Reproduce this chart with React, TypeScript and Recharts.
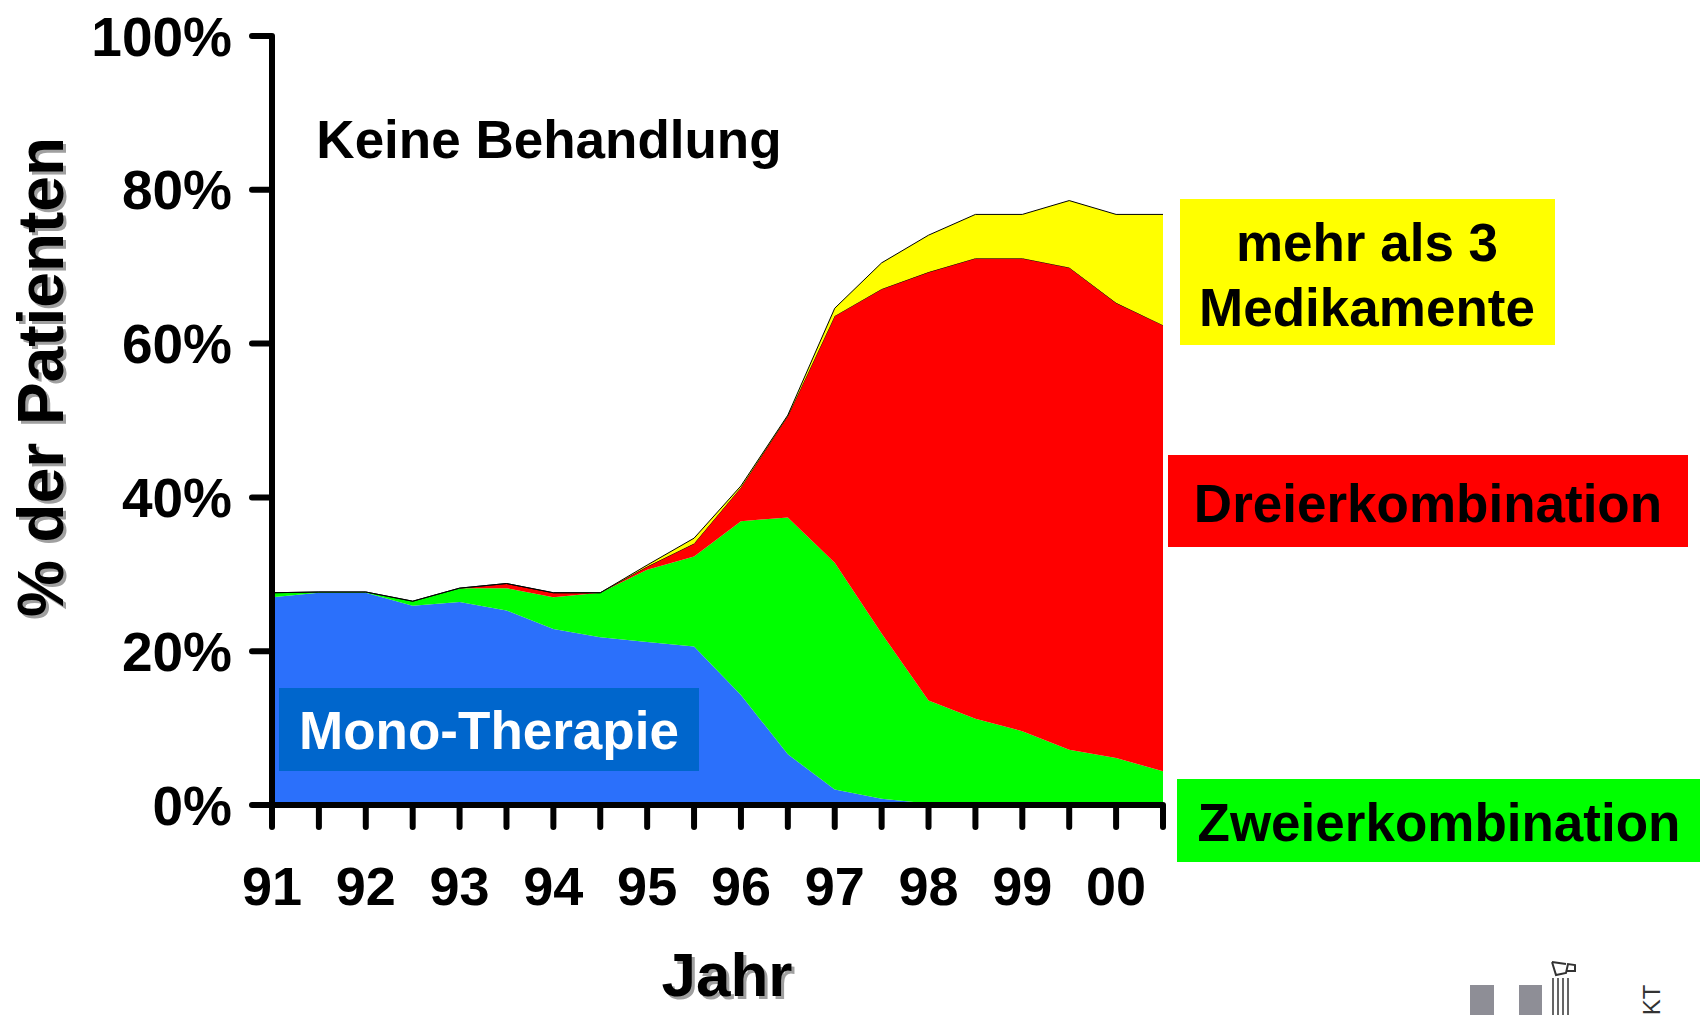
import React from 'react';
import { AreaChart, Area, XAxis, YAxis } from 'recharts';

// half-year steps from 1991 to mid 2000
const periods = ['91', '91.5', '92', '92.5', '93', '93.5', '94', '94.5', '95', '95.5',
  '96', '96.5', '97', '97.5', '98', '98.5', '99', '99.5', '00', '00.5'];

const mono = [27.0, 27.6, 27.6, 25.9, 26.4, 25.3, 22.9, 21.8, 21.2, 20.6, 14.3, 6.6, 2.0, 0.8, 0.2, 0, 0, 0, 0, 0];
const zweier = [0.6, 0.1, 0.1, 0.6, 1.8, 2.9, 4.1, 5.8, 9.4, 11.7, 22.6, 30.8, 29.5, 21.5, 13.4, 11.2, 9.6, 7.2, 6.1, 4.4];
const dreier = [0, 0, 0, 0, 0, 0.6, 0.6, 0, 0.4, 1.7, 4.4, 13.2, 32.1, 44.8, 55.7, 59.9, 61.5, 62.7, 59.2, 58.0];
const mehr = [0, 0, 0, 0, 0, 0, 0, 0, 0.2, 0.7, 0.2, 0.1, 1.0, 3.4, 4.8, 5.7, 5.7, 8.7, 11.5, 14.4];

const yTicks = [0, 20, 40, 60, 80, 100];

const data = periods.map((p, i) => ({
  period: p,
  mono: mono[i],
  zweier: zweier[i],
  dreier: dreier[i],
  mehr: mehr[i],
}));

const FONT = '"Liberation Sans", Arial, sans-serif';

const App: React.FC = () => {
  return (
    <div style={{ position: 'absolute', left: 0, top: 0, width: 1707, height: 1015, background: '#fff', overflow: 'hidden' }}>
      <AreaChart
        width={1707}
        height={1015}
        data={data}
        margin={{ top: 36, right: 544, bottom: 110, left: 0 }}
      >
        <XAxis
          dataKey="period"
          interval={0}
          height={100}
          tickFormatter={(v: string) => (v.endsWith('.5') ? '' : v)}
          axisLine={{ stroke: '#000', strokeWidth: 6 }}
          tickLine={{ stroke: '#000', strokeWidth: 6, strokeLinecap: 'round' }}
          tickSize={22}
          tickMargin={40}
          tick={{ fill: '#000', fontSize: 54, fontWeight: 'bold', fontFamily: FONT }}
        />
        <YAxis
          type="number"
          domain={[0, 100]}
          ticks={yTicks}
          width={272}
          tickFormatter={(v: number) => `${v}%`}
          axisLine={{ stroke: '#000', strokeWidth: 6 }}
          tickLine={{ stroke: '#000', strokeWidth: 6, strokeLinecap: 'round' }}
          tickSize={20}
          tickMargin={20}
          tick={{ fill: '#000', fontSize: 55, fontWeight: 'bold', fontFamily: FONT }}
        />
        <Area type="linear" dataKey="mono" stackId="1" stroke="none" fill="#2b70fb" fillOpacity={1} isAnimationActive={false} />
        <Area type="linear" dataKey="zweier" stackId="1" stroke="none" fill="#00ff00" fillOpacity={1} isAnimationActive={false} />
        <Area type="linear" dataKey="dreier" stackId="1" stroke="#000" strokeWidth={1} fill="#ff0000" fillOpacity={1} isAnimationActive={false} />
        <Area type="linear" dataKey="mehr" stackId="1" stroke="#000" strokeWidth={1} fill="#ffff00" fillOpacity={1} isAnimationActive={false} />
      </AreaChart>

      {/* labels and annotation boxes */}
      <svg width={1707} height={1015} style={{ position: 'absolute', left: 0, top: 0, pointerEvents: 'none' }}>
        <g fontFamily={FONT} fontWeight="bold">
          {/* y axis title with shadow */}
          <g transform="translate(41,377) rotate(-90)">
            <text x={-3} y={3} textAnchor="middle" dominantBaseline="central" fontSize={64} fill="#a0a0a0">% der Patienten</text>
            <text x={0} y={0} textAnchor="middle" dominantBaseline="central" fontSize={64} fill="#000">% der Patienten</text>
          </g>
          {/* x axis title with shadow */}
          <text x={730} y={999} textAnchor="middle" fontSize={62} fill="#a0a0a0">Jahr</text>
          <text x={727} y={996} textAnchor="middle" fontSize={62} fill="#000">Jahr</text>

          <text x={549} y={139} textAnchor="middle" dominantBaseline="central" fontSize={53} fill="#000">Keine Behandlung</text>

          <rect x={279} y={688} width={420} height={83} fill="#0066cc" />
          <text x={489} y={730} textAnchor="middle" dominantBaseline="central" fontSize={53} fill="#fff">Mono-Therapie</text>

          <rect x={1180} y={199} width={375} height={146} fill="#ffff00" />
          <text x={1367} y={242} textAnchor="middle" dominantBaseline="central" fontSize={53} fill="#000">mehr als 3</text>
          <text x={1367} y={307} textAnchor="middle" dominantBaseline="central" fontSize={53} fill="#000">Medikamente</text>

          <rect x={1168} y={455} width={520} height={92} fill="#ff0000" />
          <text x={1428} y={503} textAnchor="middle" dominantBaseline="central" fontSize={53} fill="#000">Dreierkombination</text>

          <rect x={1177} y={779} width={523} height={83} fill="#00ff00" />
          <text x={1439} y={822} textAnchor="middle" dominantBaseline="central" fontSize={53} fill="#000">Zweierkombination</text>
        </g>

        {/* partial logo, bottom right */}
        <g>
          <rect x={1470} y={985} width={24} height={30} fill="#8e8e96" />
          <rect x={1519} y={985} width={23} height={30} fill="#8e8e96" />
          <line x1={1553} y1={978} x2={1553} y2={1015} stroke="#333" strokeWidth={1.5} />
          <line x1={1558} y1={978} x2={1558} y2={1015} stroke="#333" strokeWidth={1.5} />
          <line x1={1563} y1={978} x2={1563} y2={1015} stroke="#333" strokeWidth={1.5} />
          <line x1={1568} y1={978} x2={1568} y2={1015} stroke="#333" strokeWidth={1.5} />
          <path d="M1552,962 L1556,975 L1566,973 L1568,964 L1575,965 L1575,971 L1567,971 M1552,962 L1566,964" fill="none" stroke="#333" strokeWidth={2} />
          <text transform="translate(1660,1000) rotate(-90)" textAnchor="middle" fontFamily={FONT} fontSize={24} fill="#333">KT</text>
        </g>
      </svg>
    </div>
  );
};

export default App;
